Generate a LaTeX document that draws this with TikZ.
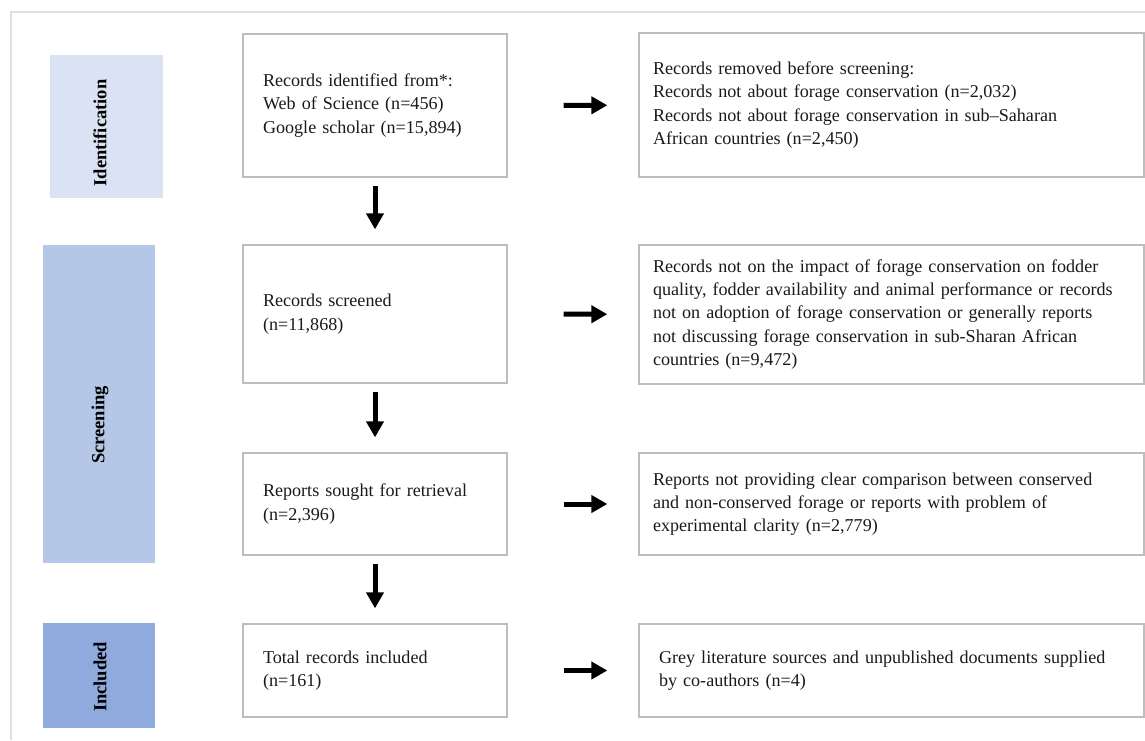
\documentclass[tikz,border=0pt]{standalone}
\usepackage{fontspec}
\setmainfont{Liberation Serif}
\usetikzlibrary{arrows.meta, positioning, calc}
\definecolor{idblue}{HTML}{DAE3F3}
\definecolor{scrblue}{HTML}{B4C7E7}
\definecolor{incblue}{HTML}{8FAADC}
\definecolor{boxgray}{HTML}{BDBDBD}
\definecolor{txtgray}{HTML}{1A1A1A}

\begin{document}
\begin{tikzpicture}[x=1pt, y=-1pt, >=Latex,
	flowbox/.style={draw=boxgray, line width=1.3pt, inner xsep=20pt, inner ysep=0pt,
		align=left, text=txtgray, font=\fontsize{18.1}{23.3}\selectfont},
	sidebox/.style={flowbox, inner xsep=14pt, minimum width=505pt, text width=477pt},
	midbox/.style={flowbox, minimum width=264pt, text width=224pt},
	stageband/.style={inner sep=0pt, rotate=90},
	stagetext/.style={rotate=90, inner sep=0pt, font=\fontsize{18.5}{20}\selectfont\bfseries},
	flowarrow/.style={-{Triangle[length=16pt,width=17pt]}, line width=5pt}]

\useasboundingbox (0,0) rectangle (1145,740);

% outer frame
\draw[gray!25, line width=2pt] (11,740) -- (11,12) -- (1145,12);

% ================= Left: stages =================
\node[stageband, fill=idblue, minimum width=143pt, minimum height=113pt] (idband) at (106.5,126.5) {};
\node[stagetext] (idtext) at (100,133) {Identification};

\node[stageband, fill=scrblue, minimum width=318pt, minimum height=112pt] (scrband) at (99,404) {};
\node[stagetext] (scrtext) at (100,425) {Screening};

\node[stageband, fill=incblue, minimum width=105pt, minimum height=112pt] (incband) at (99,675.5) {};
\node[stagetext] (inctext) at (100,677) {Included};

% ================= Middle: main flow =================
\node[midbox, minimum height=143pt] (ident) at (375,105.5)
	{Records identified from*:\\Web of Science (n=456)\\Google scholar (n=15,894)};
\node[midbox, minimum height=138pt] (screen) at (375,314)
	{Records screened\\(n=11,868)};
\node[midbox, minimum height=102pt] (sought) at (375,504)
	{Reports sought for retrieval\\(n=2,396)};
\node[midbox, minimum height=93pt] (incl) at (375,670.5)
	{Total records included\\(n=161)};

% ================= Right: exclusions =================
\node[sidebox, minimum height=144pt] (removed) at (891.5,105)
	{Records removed before screening:\\Records not about forage conservation (n=2,032)\\Records not about forage conservation in sub–Saharan\\African countries (n=2,450)};
\node[sidebox, minimum height=139pt] (notimpact) at (891.5,314.5)
	{Records not on the impact of forage conservation on fodder\\quality, fodder availability and animal performance or records\\not on adoption of forage conservation or generally reports\\not discussing forage conservation in sub-Sharan African\\countries (n=9,472)};
\node[sidebox, minimum height=102pt] (nocompare) at (891.5,504)
	{Reports not providing clear comparison between conserved\\and non-conserved forage or reports with problem of\\experimental clarity (n=2,779)};
\node[sidebox, minimum height=93pt, inner xsep=20pt, text width=465pt] (grey) at (891.5,670.5)
	{Grey literature sources and unpublished documents supplied\\by co-authors (n=4)};

% arrows
\foreach \a/\b in {ident/screen, screen/sought, sought/incl}
	\draw[flowarrow, shorten <=8pt, shorten >=15pt] (\a) -- (\b);
\foreach \a/\b in {ident/removed, screen/notimpact, sought/nocompare, incl/grey}
	\draw[flowarrow, shorten <=56pt, shorten >=31pt] (\a) -- (\b);

\end{tikzpicture}
\end{document}
